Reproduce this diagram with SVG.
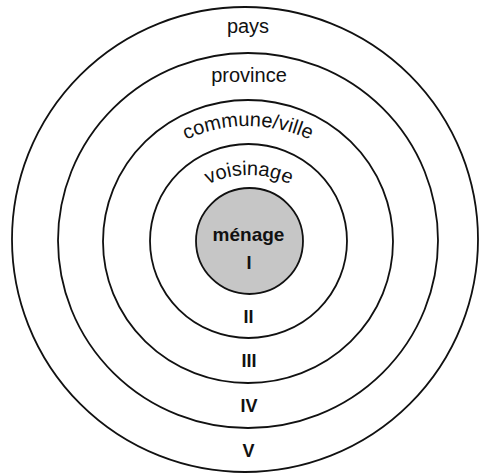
<svg xmlns="http://www.w3.org/2000/svg" width="479" height="474" viewBox="0 0 479 474">
  <style>
    .ring { fill: none; stroke: #111; stroke-width: 1.8; }
    .core { fill: #c6c6c6; stroke: #111; stroke-width: 1.8; }
    .lbl { font-family: "Liberation Sans", Arial, sans-serif; font-size: 20px; fill: #111; text-anchor: middle; }
    .num { font-family: "Liberation Sans", Arial, sans-serif; font-size: 18px; font-weight: bold; fill: #111; text-anchor: middle; }
  </style>
  <defs>
    <path id="arcCommune" d="M 102,272 A 146 146 0 0 1 394,272"/>
    <path id="arcVoisinage" d="M 155,269 A 94 94 0 0 1 343,269"/>
  </defs>
  <rect width="479" height="474" fill="#ffffff"/>
  <g id="pays">
    <ellipse class="ring" cx="245" cy="239.5" rx="233" ry="232.5"/>
    <text class="lbl" x="248" y="33">pays</text>
    <text class="num" x="248.5" y="457">V</text>
  </g>
  <g id="province">
    <ellipse class="ring" cx="248" cy="240.5" rx="190" ry="187.5"/>
    <text class="lbl" x="249" y="82">province</text>
    <text class="num" x="249" y="412">IV</text>
  </g>
  <g id="commune">
    <ellipse class="ring" cx="248" cy="241.5" rx="145" ry="141.5"/>
    <text class="lbl"><textPath href="#arcCommune" startOffset="50%">commune/ville</textPath></text>
    <text class="num" x="249" y="367">III</text>
  </g>
  <g id="voisinage">
    <ellipse class="ring" cx="248.5" cy="241" rx="98.5" ry="97"/>
    <text class="lbl"><textPath href="#arcVoisinage" startOffset="50%">voisinage</textPath></text>
    <text class="num" x="248.5" y="323">II</text>
  </g>
  <g id="menage">
    <ellipse class="core" cx="249.5" cy="241" rx="53.5" ry="53"/>
    <text class="num" x="248.5" y="241" style="font-size:19px">ménage</text>
    <text class="num" x="249" y="269">I</text>
  </g>
</svg>
